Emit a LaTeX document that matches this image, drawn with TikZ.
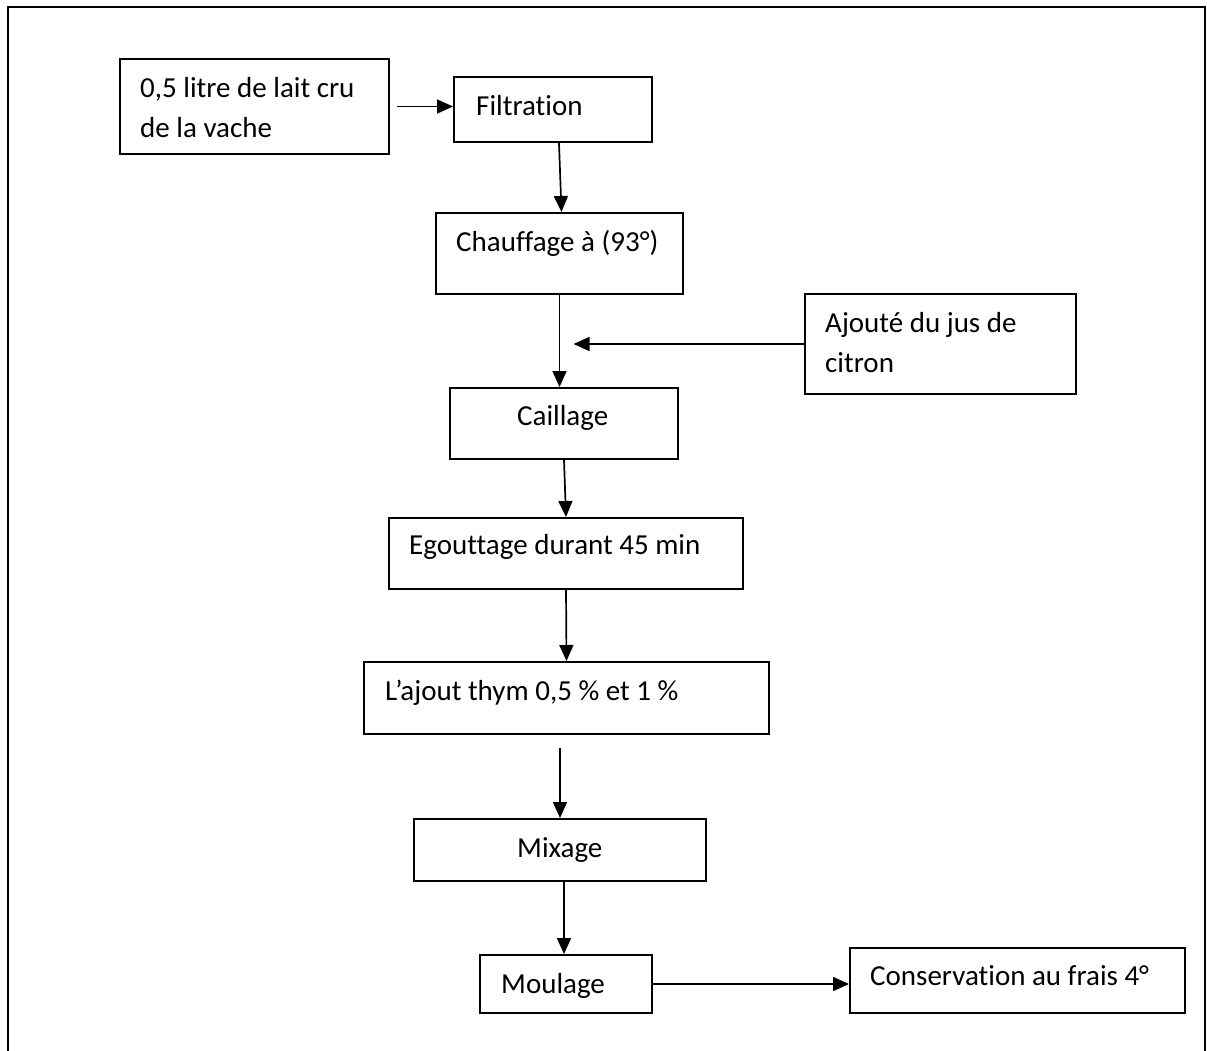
\documentclass[tikz,border=0pt]{standalone}
\usepackage{fontspec}
\setmainfont{Carlito}[Ligatures=NoCommon]
\usetikzlibrary{calc,
	positioning,
	arrows.meta}

\begin{document}
\begin{tikzpicture}[x=1pt, y=-1pt,
	>={Triangle[length=16pt, width=14pt]},
	etape/.style={draw, line width=2pt, inner sep=0pt, anchor=north west},
	texte/.style={inner sep=0pt, anchor=base west, align=left, font=\fontsize{29}{40}\selectfont},
	fleche/.style={line width=1.7pt, ->}]
	\useasboundingbox (0, 0) rectangle (1207, 1050);
	\draw[line width=2pt] (8, 1052) -- (8, 7) -- (1205, 7) -- (1205, 1052);
	\node[etape, minimum width=269pt, minimum height=95pt] (lait) at (119, 58) {};
	\node[etape, minimum width=198pt, minimum height=65pt] (filtration) at (453, 76) {};
	\node[etape, minimum width=247pt, minimum height=81pt] (chauffage) at (435, 212) {};
	\node[etape, minimum width=271pt, minimum height=100pt] (citron) at (804, 293) {};
	\node[etape, minimum width=228pt, minimum height=71pt] (caillage) at (449, 387) {};
	\node[etape, minimum width=354pt, minimum height=71pt] (egouttage) at (388, 517) {};
	\node[etape, minimum width=405pt, minimum height=72pt] (thym) at (363, 661) {};
	\node[etape, minimum width=292pt, minimum height=62pt] (mixage) at (413, 818) {};
	\node[etape, minimum width=172pt, minimum height=58pt] (moulage) at (479, 954) {};
	\node[etape, minimum width=335pt, minimum height=65pt] (conservation) at (849, 947) {};
	\node[texte] (t-lait) at (140, 137) {0,5 litre de lait cru\\de la vache};
	\node[texte] (t-filtration) at (476, 115) {Filtration};
	\node[texte] (t-chauffage) at (456, 251) {Chauffage à (93°)};
	\node[texte] (t-citron) at (825, 372) {Ajouté du jus de\\citron};
	\node[texte] (t-caillage) at (517, 425) {Caillage};
	\node[texte] (t-egouttage) at (409, 554) {Egouttage durant 45 min};
	\node[texte] (t-thym) at (385, 700) {L’ajout thym 0,5 \% et 1 \%};
	\node[texte] (t-mixage) at (517, 857) {Mixage};
	\node[texte] (t-moulage) at (501, 993) {Moulage};
	\node[texte] (t-conservation) at (870, 985) {Conservation au frais 4°};
	\coordinate (ajout) at ([xshift=14pt]chauffage.south |- citron.west);
	\draw[fleche] ([xshift=7pt]lait.east) -- (lait.east -| filtration.west);
	\draw[fleche] ([xshift=6pt]filtration.south) -- ([xshift=2pt]chauffage.north);
	\draw[fleche] (chauffage.south) -- (chauffage.south |- caillage.north);
	\draw[fleche] (citron.west) -- (ajout);
	\draw[fleche] (caillage.south) -- (egouttage.north);
	\draw[fleche] (egouttage.south) -- (thym.north);
	\draw[fleche] ([yshift=-13pt]thym.south -| mixage.north) -- (mixage.north);
	\draw[fleche] ([xshift=4pt]mixage.south) -- ([xshift=-2pt]moulage.north);
	\draw[fleche] (moulage.east) -- (moulage.east -| conservation.west);
\end{tikzpicture}
\end{document}
